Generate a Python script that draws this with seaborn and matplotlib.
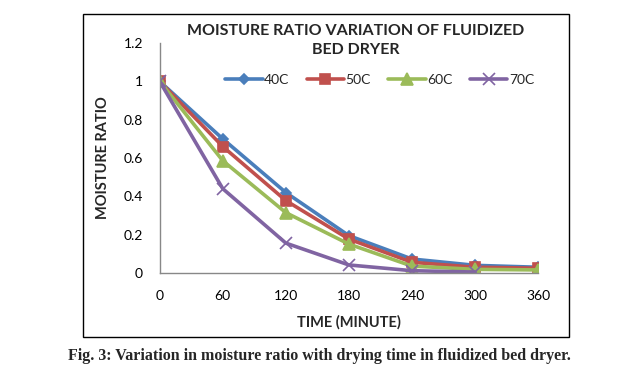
import matplotlib
matplotlib.use("Agg")
import matplotlib.pyplot as plt
import seaborn as sns
import pandas as pd
from matplotlib.patches import Rectangle

time_min = [0, 60, 120, 180, 240, 300, 360]
mr_40c = [1.0, 0.70, 0.42, 0.195, 0.073, 0.040, 0.030]
mr_50c = [1.0, 0.66, 0.378, 0.177, 0.056, 0.030, 0.025]
mr_60c = [1.0, 0.586, 0.315, 0.151, 0.036, 0.019, 0.016]
mr_70c = [1.0, 0.44, 0.156, 0.042, 0.012, 0.005]
series_names = ["40C", "50C", "60C", "70C"]
x_ticks = [0, 60, 120, 180, 240, 300, 360]
y_ticks = [0, 0.2, 0.4, 0.6, 0.8, 1.0, 1.2]
y_tick_labels = ["0", "0.2", "0.4", "0.6", "0.8", "1", "1.2"]

rows = []
for name, vals in zip(series_names, [mr_40c, mr_50c, mr_60c, mr_70c]):
    for t, v in zip(time_min, vals):
        rows.append({"time": t, "mr": v, "series": name})
df = pd.DataFrame(rows)

sns.set_theme(style="white")
plt.rcParams['font.family'] = ['Lato', 'DejaVu Sans']

fig = plt.figure(figsize=(6.39, 3.75), dpi=100)
# chart border box
fig.patches.append(Rectangle((0.130, 0.101), 0.760, 0.862, transform=fig.transFigure,
                             fill=False, edgecolor='black', linewidth=1.0))
ax = fig.add_axes([0.250, 0.272, 0.592, 0.613])

palette = {"40C": "#4A7EBB", "50C": "#C0504D", "60C": "#9BBB59", "70C": "#8064A2"}
markers = {"40C": "D", "50C": "s", "60C": "^", "70C": "x"}
sizes = {"40C": 5.5, "50C": 7.5, "60C": 8, "70C": 8}

for name in series_names:
    sub = df[df.series == name]
    sns.lineplot(data=sub, x="time", y="mr", ax=ax, color=palette[name],
                 marker=markers[name], markersize=sizes[name], linewidth=2.6,
                 markeredgecolor=palette[name], markeredgewidth=1.2,
                 label=name, legend=False)

ax.set_xlim(0, 360)
ax.set_ylim(0, 1.2)
ax.set_xticks(x_ticks)
ax.set_xticklabels([str(t) for t in x_ticks])
ax.set_yticks(y_ticks)
ax.set_yticklabels(y_tick_labels)
ax.tick_params(axis='both', length=0, labelsize=10, colors='black')
ax.tick_params(axis='x', pad=12)
ax.tick_params(axis='y', pad=12)
for s in ['top', 'right']:
    ax.spines[s].set_visible(False)
for s in ['left', 'bottom']:
    ax.spines[s].set_color('#888888')
    ax.spines[s].set_linewidth(1.0)

ax.set_xlabel("TIME (MINUTE)", fontsize=10.5, fontweight='bold', labelpad=10)
ax.set_ylabel("MOISTURE RATIO", fontsize=10.5, fontweight='bold', labelpad=10)

fig.text(0.557, 0.892, "MOISTURE RATIO VARIATION OF FLUIDIZED\nBED DRYER", ha='center',
         va='center', fontsize=11.5, fontweight='bold', linespacing=1.45)

handles, labels = ax.get_legend_handles_labels()
leg = ax.legend(handles, labels, ncol=4, loc='center', bbox_to_anchor=(0.581, 0.839),
                frameon=False, fontsize=10, handlelength=2.7, columnspacing=1.25,
                handletextpad=0.1)

fig.text(0.5, 0.05, "Fig. 3: Variation in moisture ratio with drying time in fluidized bed dryer.",
         ha='center', va='center', fontsize=11.5, fontweight='bold',
         family=['Liberation Serif', 'DejaVu Serif'])

fig.savefig("out.png", dpi=100)
